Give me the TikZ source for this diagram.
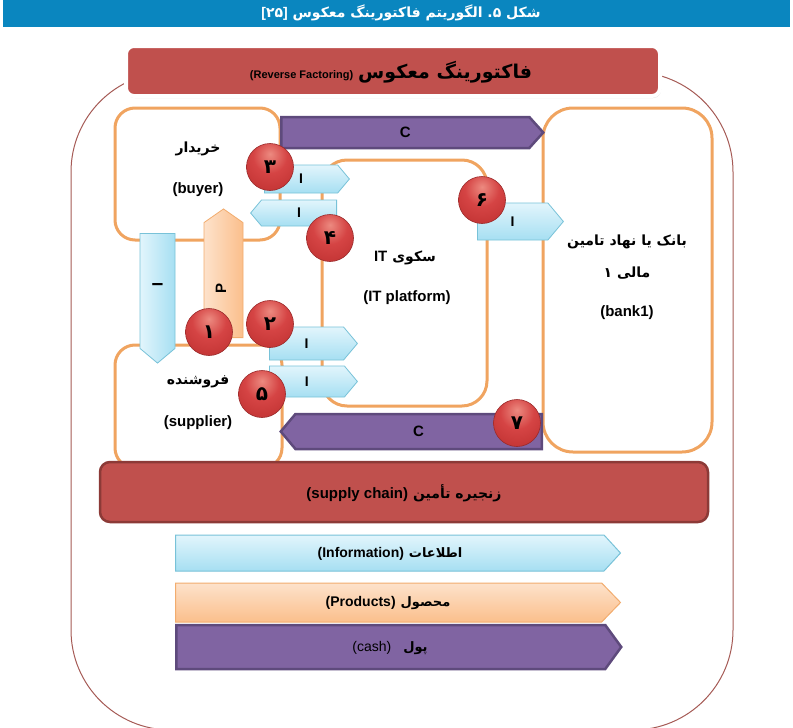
\documentclass[tikz,border=0pt]{standalone}
\usepackage{fontspec}
\setmainfont{Liberation Sans}
\newfontfamily\fa[Script=Arabic]{DejaVu Sans}
\TeXXeTstate=1
\usetikzlibrary{shapes.symbols,shadows}

\definecolor{barblue}{HTML}{0A86BF}
\definecolor{redfill}{HTML}{C0504D}
\definecolor{redline}{HTML}{8C3A37}
\definecolor{orangeline}{HTML}{F0A460}
\definecolor{purplefill}{HTML}{8064A2}
\definecolor{purpleline}{HTML}{5E4A7C}
\definecolor{bluetop}{HTML}{E2F5FC}
\definecolor{bluebot}{HTML}{A6DFF2}
\definecolor{blueline}{HTML}{78C2D8}
\definecolor{peachtop}{HTML}{FDE2CB}
\definecolor{peachbot}{HTML}{FBBF8C}
\definecolor{peachline}{HTML}{F2AC6E}
\definecolor{outerline}{HTML}{A55A55}
\definecolor{ballhi}{HTML}{EC8A80}
\definecolor{ballmid}{HTML}{D54444}
\definecolor{ballmain}{HTML}{BD2F2F}
\definecolor{balldark}{HTML}{8A1F1F}
\definecolor{balledge}{HTML}{9A2A2A}

\pgfdeclareradialshading{redball}{\pgfpoint{0bp}{14bp}}{color(0bp)=(ballhi); color(18bp)=(ballmid); color(42bp)=(ballmain); color(64bp)=(balldark); color(100bp)=(balldark)}

\newcommand{\fsz}[1]{\fontsize{#1}{#1}\selectfont}

\begin{document}
\begin{tikzpicture}[x=1pt,y=-1pt,
  entity/.style={draw=orangeline, line width=3pt, fill=white, rounded corners=20pt, inner sep=0pt},
  lbl/.style={inner sep=0pt, font=\bfseries\fsz{15}},
  falbl/.style={inner sep=0pt, font=\fa\bfseries\fsz{14}},
  iarrow/.style={signal, draw=blueline, line width=0.8pt, top color=bluetop, bottom color=bluebot, inner sep=0pt, font=\bfseries\fsz{14}},
  carrow/.style={signal, draw=purpleline, line width=2.5pt, fill=purplefill, inner sep=0pt, font=\bfseries\fsz{15}},
  numball/.style={circle, minimum size=47pt, inner sep=0pt, shading=redball, draw=balledge, line width=0.6pt, font=\fa\bfseries\fsz{20}},
  redbox/.style={draw=redline, line width=2.5pt, fill=redfill, rounded corners=10pt, inner sep=0pt}
]
\useasboundingbox (0,0) rectangle (793,728);

% title bar
\fill[barblue] (3,0) rectangle (790,27);
\node[text=white, inner sep=0pt, font=\fa\bfseries\fsz{14}] (bartitle) at (401,13)
  {{\rmfamily\bfseries [}\kern0pt{\fa ۲}\kern0pt{\fa ۵}\kern0pt{\rmfamily\bfseries ]}\ \beginR شکل ۵\kern0pt.\ الگوریتم فاکتورینگ معکوس\endR};

% outer frame
\draw[outerline, line width=1pt, rounded corners=100pt] (71,72) rectangle (733,730);

% title box
\node[draw=white, line width=4pt, fill=redfill, rounded corners=8pt, minimum width=534pt, minimum height=50pt,
      drop shadow={opacity=0.35, shadow xshift=1pt, shadow yshift=-2pt}] (titlebox) at (393,71) {};
\node[inner sep=0pt] (titletext) at (391,72)
  {{\bfseries\fsz{11}(Reverse Factoring)}\hspace{5pt}{\fa\bfseries\fsz{19}\beginR فاکتورینگ معکوس\endR}};

% entities
\node[entity, minimum width=165pt, minimum height=132pt] (buyer) at (197.5,174) {};
\node[entity, minimum width=165pt, minimum height=246pt, rounded corners=25pt] (it) at (404.5,283) {};
\node[entity, minimum width=169pt, minimum height=344pt, rounded corners=30pt] (bank) at (627.5,280) {};
\node[entity, minimum width=167pt, minimum height=123pt] (supplier) at (198.5,406.5) {};

% supply chain
\node[redbox, minimum width=608pt, minimum height=60pt] (chain) at (404,492) {};
\node[inner sep=0pt] (chaintext) at (404,493)
  {{\bfseries\fsz{15}(supply chain)}\hspace{5pt}{\fa\bfseries\fsz{14}\beginR زنجیره تأمین\endR}};

% legend arrows
\node[signal, signal to=east, signal pointer angle=95, draw=blueline, line width=1pt, top color=bluetop, bottom color=bluebot,
      minimum width=445pt, minimum height=36pt, inner sep=0pt, anchor=west] (leginfo) at (175,553) {};
\node[inner sep=0pt] (leginfotext) at (390,554)
  {{\bfseries\fsz{14}(Information)}\hspace{5pt}{\fa\bfseries\fsz{13}\beginR اطلاعات\endR}};
\node[signal, signal to=east, signal pointer angle=92, draw=peachline, line width=1pt, top color=peachtop, bottom color=peachbot,
      minimum width=445pt, minimum height=39pt, inner sep=0pt, anchor=west] (legprod) at (175,602.5) {};
\node[inner sep=0pt] (legprodtext) at (388,603)
  {{\bfseries\fsz{14}(Products)}\hspace{5pt}{\fa\bfseries\fsz{13}\beginR محصول\endR}};
\node[signal, signal to=east, signal pointer angle=108, draw=purpleline, line width=2.5pt, fill=purplefill,
      minimum width=445pt, minimum height=44pt, inner sep=0pt, anchor=west] (legcash) at (175,647) {};
\node[inner sep=0pt] (legcashtext) at (390,648)
  {{\fsz{14}(cash)}\hspace{12pt}{\fa\bfseries\fsz{13}\beginR پول\endR}};

% flow arrows
\node[carrow, signal to=east, signal pointer angle=96, minimum width=262pt, minimum height=31pt, anchor=west] (ctop) at (280,132.5) {C};
\node[carrow, signal to=west, signal pointer angle=100, minimum width=261pt, minimum height=35pt, anchor=east] (cbot) at (543,431.5) {C};

\node[iarrow, signal to=east, signal pointer angle=100, minimum width=85pt, minimum height=28pt, anchor=west] (a3) at (264,179) {I};
\node[iarrow, signal to=west, signal pointer angle=100, minimum width=86pt, minimum height=26pt, anchor=east] (a4) at (337,213) {I};
\node[iarrow, signal to=east, signal pointer angle=100, minimum width=88pt, minimum height=33pt, anchor=west] (a2) at (269,343.5) {I};
\node[iarrow, signal to=east, signal pointer angle=100, minimum width=88pt, minimum height=31pt, anchor=west] (a5) at (269,381.5) {I};
\node[iarrow, signal to=east, signal pointer angle=100, minimum width=86pt, minimum height=37pt, anchor=west] (a6) at (477,221.5) {I};

\node[signal, signal to=south, signal pointer angle=100, draw=blueline, line width=0.8pt, left color=bluetop, right color=bluebot,
      minimum width=35pt, minimum height=115pt, inner sep=0pt, anchor=north] (adown) at (157.5,233) {};
\node[rotate=-90, inner sep=0pt, font=\bfseries\fsz{15}] (adowntext) at (157.5,285) {I};
\node[signal, signal to=north, signal pointer angle=110, draw=peachline, line width=0.8pt, left color=peachtop, right color=peachbot,
      minimum width=39pt, minimum height=115pt, inner sep=0pt, anchor=south] (pup) at (223.5,338) {};
\node[rotate=90, inner sep=0pt, font=\bfseries\fsz{15}] (puptext) at (221,288) {P};

% entity labels
\node[falbl] (buyerfa) at (198,149) {خریدار};
\node[lbl] (buyeren) at (198,190) {(buyer)};
\node[inner sep=0pt] (itfa) at (405,258) {{\bfseries\fsz{15}IT}\hspace{5pt}{\fa\bfseries\fsz{14}سکوی}};
\node[lbl] (iten) at (407,298) {(IT platform)};
\node[falbl] (bankfa1) at (627,242) {\beginR بانک یا نهاد تامین\endR};
\node[falbl] (bankfa2) at (627,273) {\beginR مالی ۱\endR};
\node[lbl] (banken) at (627,313) {(bank1)};
\node[falbl] (supplierfa) at (198,382) {فروشنده};
\node[lbl] (supplieren) at (198,423) {(supplier)};

% numbered balls
\node[numball] (n3) at (270,167) {۳};
\node[numball] (n4) at (330,238) {۴};
\node[numball] (n6) at (482,200) {۶};
\node[numball] (n1) at (209,332) {۱};
\node[numball] (n2) at (270,324) {۲};
\node[numball] (n5) at (262,394) {۵};
\node[numball] (n7) at (517,423) {۷};
\end{tikzpicture}
\end{document}
